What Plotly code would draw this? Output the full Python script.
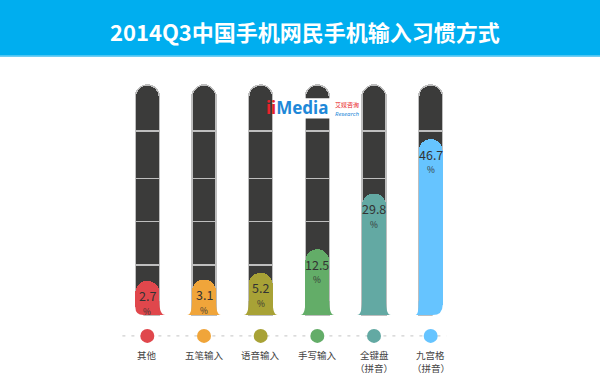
import numpy as np
import plotly.graph_objects as go

# ---------------- data ----------------
categories = ["其他", "五笔输入", "语音输入", "手写输入", "全键盘<br>（拼音）", "九宫格<br>（拼音）"]
values = [2.7, 3.1, 5.2, 12.5, 29.8, 46.7]
value_labels = ["2.7", "3.1", "5.2", "12.5", "29.8", "46.7"]
title_text = "2014Q3中国手机网民手机输入习惯方式"

# ---------------- style ----------------
colors = ["#E0474C", "#F0A53A", "#A8A236", "#63AD68", "#63A9A3", "#66C4FF"]
TRACK_COLOR = "#3B3B3A"
OFFSET = 7.9                      # capsules start a little below zero
TRACK_STOPS = [0, 15.5, 29.0, 42.4, 57.1, 71.4]   # in shifted units
DOT_LEVEL = -6.5
LABEL_LEVEL = -12.44
LABEL_LINE_PX = 12.5
YRANGE = [-20.2, 79.17]
XRANGE = [-0.5, 5.5]
BAR_W = 0.4235
FONT = "Noto Sans CJK SC"
HALF = 12   # half bar width in px
# (left flare, right flare, left corner round, right corner round) in px
flare_cfg = [(0, 6, 8, 0), (5, 5, 0, 0), (5, 5, 0, 0), (5, 5, 0, 0), (5, 5, 0, 0), (3, 0, 0, 10)]
FLARE_H = 14

x = list(range(len(categories)))
fig = go.Figure()

# dark tracks: stacked segments (outlines give the dividers)
seg_len = np.diff(TRACK_STOPS)
for k in range(len(seg_len)):
    fig.add_bar(
        x=x, y=[seg_len[k]] * len(x), width=BAR_W,
        marker=dict(color=TRACK_COLOR, line=dict(color="#BEBEBE", width=1.5), cornerradius=12),
        hoverinfo="skip", showlegend=False, xaxis="x", yaxis="y",
    )

# coloured value bars on an overlaid subplot (drawn on top)
shifted = np.array(values) + OFFSET
fig.add_bar(
    x=x, y=shifted, width=BAR_W,
    marker=dict(color=colors, cornerradius=12, line=dict(width=0)),
    hoverinfo="skip", showlegend=False, xaxis="x2", yaxis="y2",
)

# dots
fig.add_scatter(
    x=x, y=[DOT_LEVEL] * len(x), mode="markers",
    marker=dict(color=colors, size=14, line=dict(width=0)),
    hoverinfo="skip", showlegend=False, xaxis="x2", yaxis="y2",
)

shapes = []
shapes.append(dict(type="line", xref="x", yref="y", x0=-0.44, x1=5.28, y0=DOT_LEVEL, y1=DOT_LEVEL,
                   line=dict(color="#CFCFCF", width=1.3, dash="3px,6px"), layer="below"))

for i, (lf, rf, lr, rr) in enumerate(flare_cfg):
    common = dict(type="path", xref="x", yref="y", xsizemode="pixel", ysizemode="pixel",
                  xanchor=i, yanchor=0, line=dict(width=0), layer="above")
    H = HALF
    if rf:
        p = f"M {H-1},{FLARE_H} L {H},{FLARE_H} Q {H},0 {H+rf},0 L {H-1},0 Z"
        shapes.append(dict(common, path=p, fillcolor=colors[i]))
    if lf:
        p = f"M {-H+1},{FLARE_H} L {-H},{FLARE_H} Q {-H},0 {-H-lf},0 L {-H+1},0 Z"
        shapes.append(dict(common, path=p, fillcolor=colors[i]))
    if lr:
        p = f"M {-H-1},-1 L {-H-1},{lr} L {-H},{lr} Q {-H},0 {-H+lr},0 L {-H+lr},-1 Z"
        shapes.append(dict(common, path=p, fillcolor="white"))
    if rr:
        p = f"M {H+1},-1 L {H+1},{rr} L {H},{rr} Q {H},0 {H-rr},0 L {H-rr},-1 Z"
        shapes.append(dict(common, path=p, fillcolor="white"))

# title band
shapes.append(dict(type="rect", xref="paper", yref="paper", x0=-0.36, x1=1.42, y0=1.0134, y1=1.19,
                   fillcolor="#00AEEF", line=dict(width=0), layer="below"))
shapes.append(dict(type="rect", xref="paper", yref="paper", x0=-0.36, x1=1.42, y0=1.0094, y1=1.0134,
                   fillcolor="#6FCDF3", line=dict(width=0), layer="below"))

# logo white backing
shapes.append(dict(type="rect", xref="x", yref="y", x0=2.34, x1=3.75, y0=61.0, y1=67.3,
                   fillcolor="white", line=dict(width=0), layer="above"))

annotations = []
annotations.append(dict(xref="paper", yref="paper", x=0.547, y=1.0906, text=f"<b>{title_text}</b>",
                        showarrow=False, font=dict(family=FONT, size=22, color="white"),
                        xanchor="center", yanchor="middle"))

for i, (v, lab) in enumerate(zip(shifted, value_labels)):
    annotations.append(dict(x=i, y=v, text=lab, showarrow=False, yshift=-15,
                            font=dict(family=FONT, size=12.5, color="#333333"),
                            xanchor="center", yanchor="middle"))
    annotations.append(dict(x=i, y=v, text="%", showarrow=False, yshift=-30,
                            font=dict(family=FONT, size=8.5, color="#333333"),
                            xanchor="center", yanchor="middle"))
    for j, line in enumerate(categories[i].split("<br>")):
        annotations.append(dict(x=i, y=LABEL_LEVEL, text=line, showarrow=False,
                                yshift=-LABEL_LINE_PX * j,
                                font=dict(family=FONT, size=9.5, color="#444444"),
                                xanchor="center", yanchor="middle"))

annotations.append(dict(x=2.06, y=64.3, xanchor="left", yanchor="middle", showarrow=False,
                        text="<b><span style='color:#E8232A'>ii</span><span style='color:#1E88D8'>Media</span></b>",
                        font=dict(family="Noto Sans", size=17)))
annotations.append(dict(x=3.277, y=65.4, xanchor="left", yanchor="middle", showarrow=False,
                        text="艾媒咨询", font=dict(family=FONT, size=6, color="#E8232A")))
annotations.append(dict(x=3.277, y=62.3, xanchor="left", yanchor="middle", showarrow=False,
                        text="<i>Research</i>", font=dict(family="Noto Sans", size=6, color="#1E88D8")))

fig.update_layout(
    width=600, height=390, autosize=False,
    margin=dict(l=119, r=141, t=60, b=10),
    paper_bgcolor="white", plot_bgcolor="white",
    barmode="stack",
    xaxis=dict(range=XRANGE, visible=False, fixedrange=True),
    yaxis=dict(range=YRANGE, visible=False, fixedrange=True),
    xaxis2=dict(range=XRANGE, visible=False, fixedrange=True, overlaying="x"),
    yaxis2=dict(range=YRANGE, visible=False, fixedrange=True, overlaying="y"),
    shapes=shapes, annotations=annotations,
    showlegend=False,
)

fig.write_html("out.html")
